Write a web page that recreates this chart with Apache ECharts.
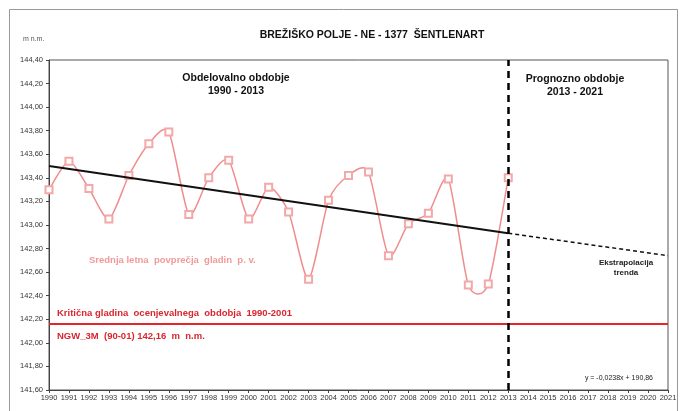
<!DOCTYPE html>
<html><head><meta charset="utf-8">
<script src="https://cdn.jsdelivr.net/npm/echarts@6/dist/echarts.min.js"></script>
<style>html,body{margin:0;padding:0;background:#fff}#c{width:682px;height:411px}</style>
</head><body><div id="c"></div>
<script>
// x tick labels (years)
const tickYears = [1990,1991,1992,1993,1994,1995,1996,1997,1998,1999,2000,2001,2002,2003,2004,2005,2006,2007,2008,2009,2010,2011,2012,2013,2014,2015,2016,2017,2018,2019,2020,2021];
// observed mean annual groundwater levels
const obsYears = [1990,1991,1992,1993,1994,1995,1996,1997,1998,1999,2000,2001,2002,2003,2004,2005,2006,2007,2008,2009,2010,2011,2012,2013];
const obsLevels = [143.30,143.54,143.31,143.05,143.42,143.69,143.79,143.09,143.40,143.55,143.05,143.32,143.11,142.54,143.21,143.42,143.45,142.74,143.01,143.10,143.39,142.49,142.50,143.40];
// trend line and extrapolation (endpoints)
const trendYears = [1990, 2013];
const trendLevels = [143.50, 142.93];
const extrapYears = [2013, 2021];
const extrapLevels = [142.93, 142.74];
// critical level
const critYears = [1990, 2021];
const critLevels = [142.16, 142.16];
const splitYear = 2013;

const zip = (a, b) => a.map((v, i) => [v, b[i]]);
const FF = '"Liberation Sans", Arial, sans-serif';
const SMOOTH_K = 0.12; // spline tension used for drawing the observed curve

// Smoothed (Excel-like) curve through the observed points, positioned by the chart's own axes.
function renderSmoothCurve(params, api) {
  const pts = obsYears.map((y, i) => api.coord([y, obsLevels[i]]));
  let d = 'M' + pts[0][0] + ' ' + pts[0][1];
  for (let i = 0; i < pts.length - 1; i++) {
    const p0 = pts[Math.max(i - 1, 0)], p1 = pts[i], p2 = pts[i + 1], p3 = pts[Math.min(i + 2, pts.length - 1)];
    const c1x = p1[0] + (p2[0] - p0[0]) * SMOOTH_K, c1y = p1[1] + (p2[1] - p0[1]) * SMOOTH_K;
    const c2x = p2[0] - (p3[0] - p1[0]) * SMOOTH_K, c2y = p2[1] - (p3[1] - p1[1]) * SMOOTH_K;
    d += ' C' + c1x + ' ' + c1y + ' ' + c2x + ' ' + c2y + ' ' + p2[0] + ' ' + p2[1];
  }
  return {type: 'path', shape: {pathData: d}, style: {stroke: '#f08c8c', lineWidth: 1.5, fill: 'none'}};
}

const chart = echarts.init(document.getElementById('c'), null, {renderer: 'canvas'});
chart.setOption({
  animation: false,
  backgroundColor: '#fff',
  grid: {left: 49, right: 14, top: 60, bottom: 21, show: true, borderColor: '#555', borderWidth: 1, backgroundColor: 'transparent'},
  xAxis: {
    type: 'value', min: 1990, max: 2021, interval: 1,
    axisLine: {lineStyle: {color: '#444', width: 1}},
    axisTick: {show: true, length: 3, lineStyle: {color: '#444'}},
    axisLabel: {formatter: v => String(v), fontSize: 7.5, color: '#333', fontFamily: FF, margin: 4},
    splitLine: {show: false}
  },
  yAxis: {
    type: 'value', min: 141.6, max: 144.4, interval: 0.2,
    axisLine: {show: true, lineStyle: {color: '#444', width: 1}},
    axisTick: {show: true, length: 3, lineStyle: {color: '#444'}},
    axisLabel: {formatter: v => v.toFixed(2).replace('.', ','), fontSize: 7.5, color: '#333', fontFamily: FF, margin: 6},
    splitLine: {show: false}
  },
  series: [
    {
      type: 'line', data: zip(critYears, critLevels), symbol: 'none',
      lineStyle: {color: '#e5262c', width: 2}, z: 2
    },
    {
      type: 'custom', coordinateSystem: 'cartesian2d', renderItem: renderSmoothCurve,
      data: [[obsYears[0], obsLevels[0]]], silent: true, z: 3
    },
    {
      type: 'line', data: zip(obsYears, obsLevels),
      symbol: 'emptyRect', symbolSize: 7,
      lineStyle: {opacity: 0},
      itemStyle: {color: '#f4a8a8', borderColor: '#f4a8a8', borderWidth: 1},
      z: 3,
      markLine: {
        silent: true, symbol: 'none', label: {show: false},
        lineStyle: {color: '#000', width: 2.5, type: [7, 5], opacity: 1},
        data: [{xAxis: splitYear}]
      }
    },
    {
      type: 'line', data: zip(trendYears, trendLevels), symbol: 'none',
      lineStyle: {color: '#111', width: 2}, z: 4
    },
    {
      type: 'line', data: zip(extrapYears, extrapLevels), symbol: 'none',
      lineStyle: {color: '#111', width: 1.5, type: [4, 3]}, z: 4
    }
  ],
  graphic: [
    {type: 'rect', shape: {x: 9.5, y: 9.5, width: 668, height: 420}, style: {fill: 'none', stroke: '#999', lineWidth: 1}, silent: true, z: -1},
    {type: 'text', x: 372, y: 35, style: {text: 'BREŽIŠKO POLJE - NE - 1377  ŠENTLENART', font: 'bold 10.5px ' + FF, fill: '#111', align: 'center', verticalAlign: 'middle'}},
    {type: 'text', x: 23, y: 39, style: {text: 'm n.m.', font: '7px ' + FF, fill: '#555', verticalAlign: 'middle'}},
    {type: 'text', x: 236, y: 85, style: {text: 'Obdelovalno obdobje\n1990 - 2013', font: 'bold 10.5px ' + FF, lineHeight: 13, fill: '#111', align: 'center', verticalAlign: 'middle'}},
    {type: 'text', x: 575, y: 86, style: {text: 'Prognozno obdobje\n2013 - 2021', font: 'bold 10.5px ' + FF, lineHeight: 13, fill: '#111', align: 'center', verticalAlign: 'middle'}},
    {type: 'text', x: 89, y: 260, style: {text: 'Srednja letna  povprečja  gladin  p. v.', font: 'bold 9.5px ' + FF, fill: '#f19a9a', verticalAlign: 'middle'}},
    {type: 'text', x: 57, y: 313, style: {text: 'Kritična gladina  ocenjevalnega  obdobja  1990-2001', font: 'bold 9.5px ' + FF, fill: '#d9262e', verticalAlign: 'middle'}},
    {type: 'text', x: 57, y: 336, style: {text: 'NGW_3M  (90-01) 142,16  m  n.m.', font: 'bold 9.5px ' + FF, fill: '#d9262e', verticalAlign: 'middle'}},
    {type: 'text', x: 626, y: 268, style: {text: 'Ekstrapolacija\ntrenda', font: 'bold 8px ' + FF, lineHeight: 10, fill: '#222', align: 'center', verticalAlign: 'middle'}},
    {type: 'text', x: 653, y: 378, style: {text: 'y = -0,0238x + 190,86', font: '7px ' + FF, fill: '#222', align: 'right', verticalAlign: 'middle'}}
  ]
});
</script></body></html>
